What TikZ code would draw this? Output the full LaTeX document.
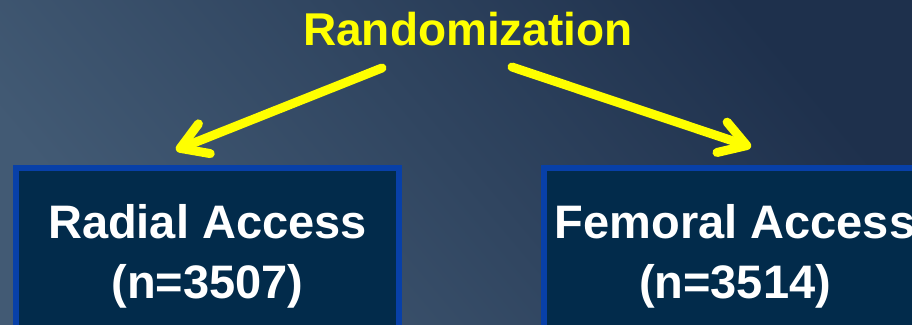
\documentclass[tikz,border=0pt]{standalone}
\usepackage{fontspec}
\setmainfont{Liberation Sans}
\usetikzlibrary{positioning, arrows.meta}

\definecolor{bglight}{RGB}{66,90,116}
\definecolor{bgdark}{RGB}{30,48,76}
\definecolor{boxfill}{RGB}{2,43,75}
\definecolor{boxline}{RGB}{8,64,168}
\definecolor{arrowyellow}{RGB}{255,255,0}

\begin{document}
\begin{tikzpicture}[x=1pt, y=-1pt,
    % styles
    title/.style={text=arrowyellow, font=\fontsize{46}{55}\selectfont\bfseries, inner sep=0pt},
    group/.style={rectangle, draw=boxline, line width=6pt, fill=boxfill, text=white,
        minimum width=383pt, minimum height=177pt, align=center, inner sep=0pt,
        font=\fontsize{47}{60}\selectfont\bfseries},
    % arrow style
    myarrow/.style={-{Straight Barb[length=26pt, width=32pt, round]}, line width=9pt,
        line cap=round, draw=arrowyellow,
        preaction={draw=black, opacity=0.3, transform canvas={shift={(2pt,-2pt)}}}}
]
\useasboundingbox (0,0) rectangle (912,324);
\clip (0,0) rectangle (912,324);

% background
\shade[top color=bgdark, bottom color=bglight, shading angle=-50] (0,0) rectangle (912,324);

% ====================
% top: randomization
% ====================
\node[title, anchor=base] (rand) at (468,45) {Randomization};

\coordinate (lstart) at (382,68);
\coordinate (lend) at (176,150);
\coordinate (rstart) at (512,67);
\coordinate (rend) at (751,147);

% ====================
% bottom: the two arms
% ====================
\node[group] (radial) at (207.5,256.5) {Radial Access\\(n=3507)};
\node[group] (femoral) at (735,256.5) {Femoral Access\\(n=3514)};

% arrows
\draw[myarrow] (lstart) -- (lend);
\draw[myarrow] (rstart) -- (rend);

\end{tikzpicture}
\end{document}
